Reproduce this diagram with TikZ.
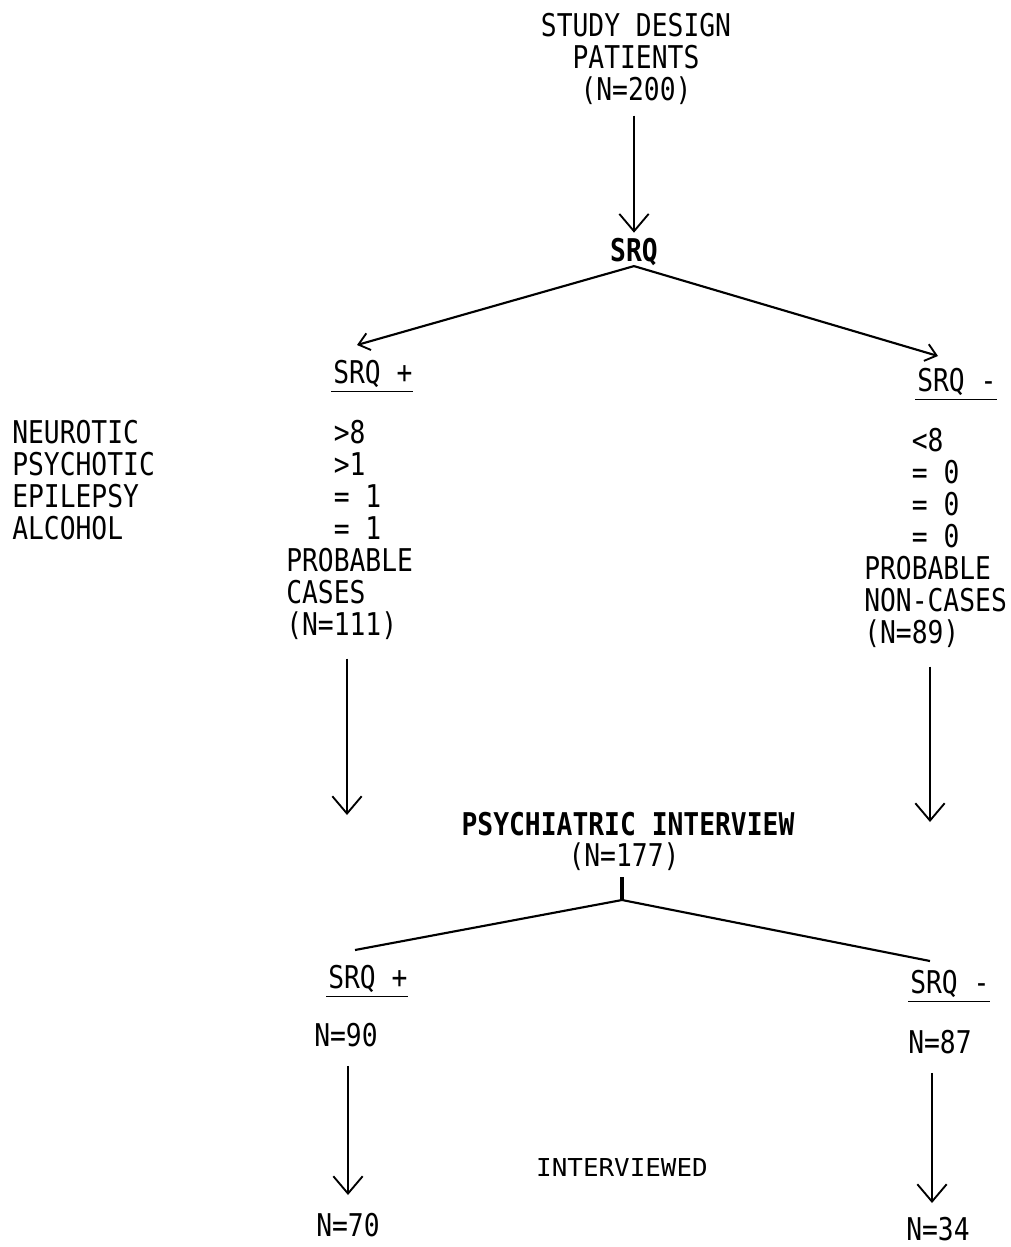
\documentclass[tikz,border=0pt]{standalone}
\usepackage{fontspec}
\setmainfont[FakeStretch=0.84]{DejaVu Sans Mono}
\newfontfamily\ivfont[FakeStretch=1.05]{DejaVu Sans Mono}
\usetikzlibrary{arrows.meta,calc}
\begin{document}
\begin{tikzpicture}[x=0.75pt,y=-0.75pt,
  txt/.style={inner sep=0pt,font=\fontsize{23.5}{24}\selectfont},
  lft/.style={txt,align=left,anchor=north west},
  ctr/.style={txt,align=center,anchor=north},
  bld/.style={ctr,font=\fontsize{23.5}{24}\selectfont\bfseries},
  link/.style={line width=1.6pt},
  arr/.style={link,-{Straight Barb[length=13pt,width=22pt,line width=1.4pt]}},
  sarr/.style={link,-{Straight Barb[length=8pt,width=13pt,line width=1.4pt]}},
  uline/.style={line width=1.2pt}]
\useasboundingbox (0,0) rectangle (1011,1247);

% top
\node[ctr] (top) at (636,13) {STUDY DESIGN\\PATIENTS\\(N=200)};
\node[bld] (srq) at (634,238) {SRQ};
\draw[arr,shorten <=8pt,shorten >=4pt] (top.south -| srq) -- (srq.north);

% first split
\coordinate (tipL) at (357,345);
\coordinate (tipR) at (938,356);
\node[lft] (srqp) at (333,360) {SRQ +};
\node[lft] (srqm) at (917,368) {SRQ -};
\draw[sarr] (srq.south) -- (tipL);
\draw[sarr] (srq.south) -- (tipR);
\draw[uline] ($(srqp.base west)+(-2,8)$) -- ($(srqp.base east)+(0,8)$);
\draw[uline] ($(srqm.base west)+(-2,8)$) -- ($(srqm.base east)+(0,8)$);

% criteria
\node[lft] (crit) at (12,420) {NEUROTIC\\PSYCHOTIC\\EPILEPSY\\ALCOHOL};
\node[lft] (cases) at (286,420) {\phantom{PRO}>8\\\phantom{PRO}>1\\\phantom{PRO}= 1\\\phantom{PRO}= 1\\PROBABLE\\CASES\\(N=111)};
\node[lft] (noncases) at (864,428) {\phantom{PRO}<8\\\phantom{PRO}= 0\\\phantom{PRO}= 0\\\phantom{PRO}= 0\\PROBABLE\\NON-CASES\\(N=89)};

% down arrows
\coordinate (endL) at (347,815);
\coordinate (endR) at (930,822);
\draw[arr,shorten <=14pt] (cases.south -| endL) -- (endL);
\draw[arr,shorten <=14pt] (noncases.south -| endR) -- (endR);

% psychiatric interview
\node[bld] (psy) at (628,812) {PSYCHIATRIC INTERVIEW};
\node[ctr] (n177) at (624,842) {(N=177)};
\coordinate (fork) at (622,900);
\coordinate (brL) at (355,950);
\coordinate (brR) at (930,961);
\draw[link,line width=2.4pt,shorten <=5pt] (n177.south -| fork) -- (fork);
\draw[link] (fork) -- (brL);
\draw[link] (fork) -- (brR);

\node[lft] (srqp2) at (328,965) {SRQ +};
\node[lft] (srqm2) at (910,970) {SRQ -};
\draw[uline] ($(srqp2.base west)+(-2,8)$) -- ($(srqp2.base east)+(0,8)$);
\draw[uline] ($(srqm2.base west)+(-2,8)$) -- ($(srqm2.base east)+(0,8)$);

\node[lft] (n90) at (314,1023) {N=90};
\node[lft] (n87) at (908,1030) {N=87};
\coordinate (e3) at (348,1195);
\coordinate (e4) at (932,1203);
\draw[arr,shorten <=14pt] (n90.south -| e3) -- (e3);
\draw[arr,shorten <=14pt] (n87.south -| e4) -- (e4);

\node[inner sep=0pt,anchor=north,font=\ivfont\fontsize{18.5}{20}\selectfont] (iv) at (622,1158) {INTERVIEWED};

\node[lft] (n70) at (316,1213) {N=70};
\node[lft] (n34) at (906,1217) {N=34};
\end{tikzpicture}
\end{document}
